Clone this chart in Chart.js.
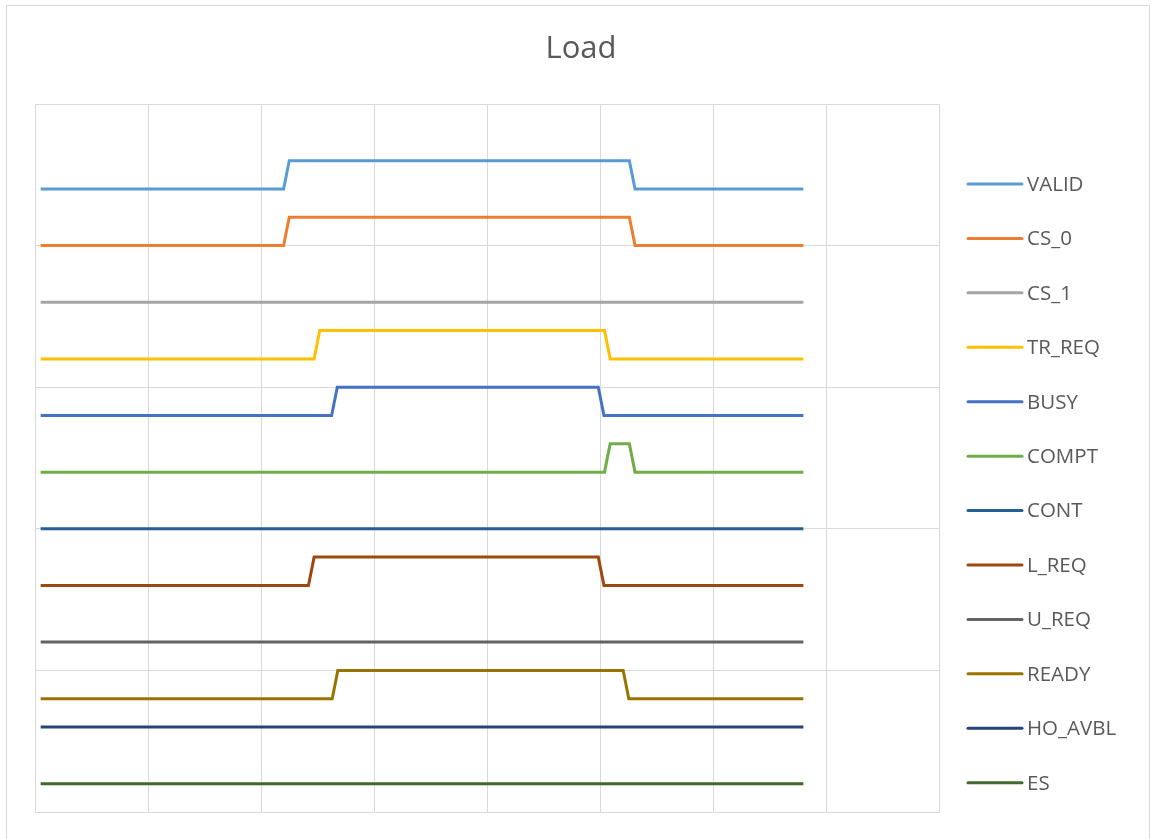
<!DOCTYPE html>
<html>
<head>
<meta charset="utf-8">
<title>Load</title>
<script src="https://cdn.jsdelivr.net/npm/chart.js@4/dist/chart.umd.min.js"></script>
<style>
  html, body { margin: 0; padding: 0; background: #fff; overflow: hidden; }
  #wrap { width: 1153px; height: 839px; }
</style>
</head>
<body>
<div id="wrap"><canvas id="load-chart" width="1153" height="839"></canvas></div>
<script>
const ctx = document.getElementById("load-chart");

const chartTitle = "Load";
// signal names, top to bottom
const signalNames = ["VALID", "CS_0", "CS_1", "TR_REQ", "BUSY", "COMPT", "CONT", "L_REQ", "U_REQ", "READY", "HO_AVBL", "ES"];
// vertical offset of each trace (its low level)
const signalOffsets = [22, 20, 18, 16, 14, 12, 10, 8, 6, 4, 2, 0];

// waveform breakpoints: time / logic level
const validTime = [1, 44, 45, 105.2, 106.2, 136];
const validLevel = [0, 0, 1, 1, 0, 0];
const cs0Time = [1, 44, 45, 105.2, 106.2, 136];
const cs0Level = [0, 0, 1, 1, 0, 0];
const cs1Time = [1, 136];
const cs1Level = [0, 0];
const trReqTime = [1, 49.4, 50.4, 100.8, 101.8, 136];
const trReqLevel = [0, 0, 1, 1, 0, 0];
const busyTime = [1, 52.5, 53.5, 99.7, 100.7, 136];
const busyLevel = [0, 0, 1, 1, 0, 0];
const comptTime = [1, 100.8, 101.8, 105.2, 106.2, 136];
const comptLevel = [0, 0, 1, 1, 0, 0];
const contTime = [1, 136];
const contLevel = [0, 0];
const lReqTime = [1, 48.4, 49.4, 99.7, 100.7, 136];
const lReqLevel = [0, 0, 1, 1, 0, 0];
const uReqTime = [1, 136];
const uReqLevel = [0, 0];
const readyTime = [1, 52.6, 53.6, 104.1, 105.1, 136];
const readyLevel = [0, 0, 1, 1, 0, 0];
const hoAvblTime = [1, 136];
const hoAvblLevel = [1, 1];
const esTime = [1, 136];
const esLevel = [1, 1];

const signalTimes = [validTime, cs0Time, cs1Time, trReqTime, busyTime, comptTime, contTime, lReqTime, uReqTime, readyTime, hoAvblTime, esTime];
const signalLevels = [validLevel, cs0Level, cs1Level, trReqLevel, busyLevel, comptLevel, contLevel, lReqLevel, uReqLevel, readyLevel, hoAvblLevel, esLevel];

const Config = {
  colors: {
    series: ["#5b9bd5", "#ed7d31", "#a5a5a5", "#ffc000", "#4472c4", "#70ad47",
             "#255e91", "#9e480e", "#636363", "#997300", "#264478", "#43682b"],
    text: "#595959",
    grid: "#d9d9d9",
  },
  font: `"Open Sans", "Liberation Sans", sans-serif`,
  title: { x: 581, y: 49, size: 31 },
  legend: { x0: 968, x1: 1022, textX: 1027, y0: 184, step: 54.43, size: 20.5 },
};

const datasets = signalNames.map((name, i) => ({
  label: name,
  data: signalTimes[i].map((t, k) => ({ x: t, y: signalOffsets[i] + signalLevels[i][k] })),
  borderColor: Config.colors.series[i],
  backgroundColor: Config.colors.series[i],
  borderWidth: 3,
  pointRadius: 0,
  fill: false,
  tension: 0,
}));

// Excel-style title, legend on the right, and the outer chart frame
const excelFrame = {
  id: "excelFrame",
  beforeDraw(chart) {
    const c = chart.ctx;
    c.save();
    c.strokeStyle = Config.colors.grid;
    c.lineWidth = 1;
    c.strokeRect(6.5, 5.5, 1143, 850);
    c.restore();
  },
  afterDraw(chart) {
    const c = chart.ctx;
    const L = Config.legend;
    const T = Config.title;
    c.save();
    c.fillStyle = Config.colors.text;
    c.textBaseline = "middle";
    c.textAlign = "center";
    c.font = `${T.size}px ${Config.font}`;
    c.fillText(chartTitle, T.x, T.y);

    c.textAlign = "left";
    c.font = `${L.size}px ${Config.font}`;
    chart.data.datasets.forEach((ds, i) => {
      const y = L.y0 + L.step * i;
      c.strokeStyle = ds.borderColor;
      c.lineWidth = 3;
      c.lineCap = "round";
      c.beginPath();
      c.moveTo(L.x0, y);
      c.lineTo(L.x1, y);
      c.stroke();
      c.fillText(ds.label, L.textX, y + 1);
    });
    c.restore();
  },
};

new Chart(ctx, {
  type: "line",
  data: { datasets },
  plugins: [excelFrame],
  options: {
    responsive: false,
    animation: false,
    layout: { padding: { left: 35, right: 214, top: 104, bottom: 27 } },
    scales: {
      x: {
        type: "linear",
        min: 0,
        max: 160,
        ticks: { display: false, stepSize: 20 },
        grid: { color: Config.colors.grid, drawTicks: false },
        border: { color: Config.colors.grid },
      },
      y: {
        type: "linear",
        min: 0,
        max: 25,
        ticks: { display: false, stepSize: 5 },
        grid: { color: Config.colors.grid, drawTicks: false },
        border: { color: Config.colors.grid },
      },
    },
    plugins: {
      legend: { display: false },
      tooltip: { enabled: false },
      title: { display: false },
    },
  },
});
</script>
</body>
</html>
